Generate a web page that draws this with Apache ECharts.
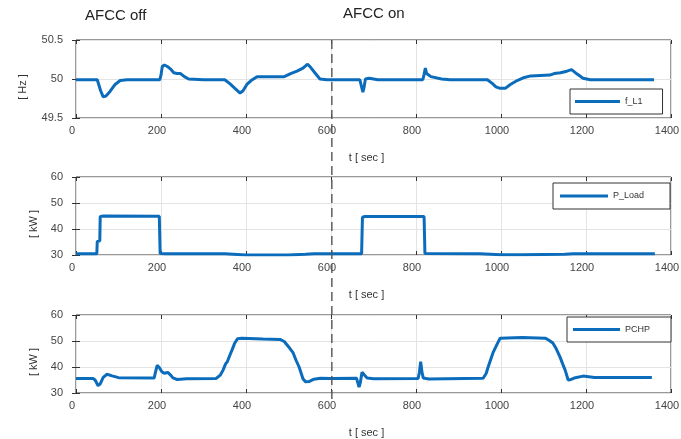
<!DOCTYPE html>
<html><head><meta charset="utf-8">
<script src="https://cdn.jsdelivr.net/npm/echarts@6/dist/echarts.min.js"></script>
<style>html,body{margin:0;padding:0;background:#fff}#c{width:681px;height:439px}</style>
</head><body><div id="c"></div>
<script>
// ---- data ----
const xTickMin = 0, xTickMax = 1400, xTickStep = 200;
const switchTime = 602; // AFCC off -> on

const fTime  = [0,50,53,58,64,70,80,92,104,120,197,200,203,208,215,222,230,238,246,255,265,300,350,362,372,386,393,402,412,426,490,505,520,534,545,552,562,574,590,668,671,675,678,681,690,710,816,819,822,825,835,860,880,968,980,988,998,1010,1022,1038,1055,1070,1115,1125,1140,1155,1166,1180,1193,1210,1360];
const fValue = [49.99,49.99,49.97,49.85,49.77,49.78,49.84,49.93,49.98,49.99,49.99,50.05,50.16,50.18,50.16,50.13,50.08,50.07,50.07,50.03,50.0,49.99,49.99,49.94,49.89,49.82,49.85,49.93,49.98,50.03,50.03,50.07,50.1,50.14,50.19,50.15,50.08,50.0,49.99,49.99,49.92,49.83,49.9,50.0,50.01,49.99,49.99,50.06,50.14,50.07,50.03,50.0,49.99,49.99,49.94,49.9,49.88,49.88,49.93,49.98,50.02,50.04,50.05,50.07,50.08,50.1,50.12,50.06,50.01,49.99,49.99];

const pTime  = [0,49,50,56,57,65,196,198,210,350,380,400,500,540,560,672,674,680,819,821,950,1000,1050,1150,1170,1362];
const pValue = [30.5,30.5,35.2,35.5,44.8,45,44.9,30.6,30.5,30.5,30.2,30,30,30.3,30.5,30.5,44.5,44.8,44.8,30.6,30.5,30.1,30.1,30.3,30.5,30.5];

const cTime  = [0,40,45,52,57,64,73,85,100,184,187,191,196,202,208,216,222,228,238,260,330,340,346,352,356,362,367,373,380,390,440,480,490,500,511,518,525,534,540,548,560,575,600,660,663,666,669,673,678,685,700,805,808,811,814,817,830,958,965,969,975,981,990,998,1050,1104,1112,1122,1130,1139,1145,1151,1158,1165,1175,1193,1220,1355];
const cValue = [35.6,35.6,35,32.8,33.5,36,37.2,36.6,35.9,35.8,38,40.6,39.8,38.2,37.6,37.9,37,35.8,35.2,35.5,35.6,37,38.8,41.2,42,44.5,46.5,49,50.9,51.1,50.8,50.6,49.8,47.8,45.4,42.5,40,35.5,34.3,34.4,35.3,35.7,35.6,35.7,34,32.3,34,38,37,35.8,35.5,35.6,38,42,38,35.8,35.4,35.7,37.5,39.6,42.5,45.4,48.5,51.1,51.3,51.1,50.4,49.2,47,43.8,41.2,38.8,35,35.2,35.9,36.5,36,36];

const seriesNames = ['f_L1','P_Load','PCHP'];
const yNames = ['[ Hz ]','[ kW ]','[ kW ]'];
const yMin = [49.5,30,30], yMax = [50.5,60,60], yStep = [0.5,10,10];
const titles = ['AFCC off','AFCC on'];
const xName = 't [ sec ]';

// ---- chart ----
const FONT = 'Liberation Sans, Arial, sans-serif';
const BLUE = '#0b6cbc';
const pair = (t, v) => t.map((x, i) => [x, v[i]]);
const seriesData = [pair(fTime, fValue), pair(pTime, pValue), pair(cTime, cValue)];
const plain = v => String(v);

const gridTops = [40, 177, 315];
const grids = gridTops.map(t => ({left:76, top:t, width:595, height:78, show:true, borderColor:'#333', borderWidth:1,
  backgroundColor:'#fff', containLabel:false, outerBoundsMode:'none'}));

const xAxes = [], yAxes = [];
for (let i = 0; i < 3; i++) {
  xAxes.push({gridIndex:i, type:'value', position:'bottom', min:xTickMin, max:xTickMax, interval:xTickStep,
    axisLine:{show:false}, axisTick:{show:true, inside:true, length:4, lineStyle:{color:'#333'}},
    splitLine:{show:true, lineStyle:{color:'#e3e3e3', width:1}},
    axisLabel:{color:'#444', fontSize:11, fontFamily:FONT, margin:7, formatter:plain, padding:[0,8,0,0]},
    name:xName, nameLocation:'middle', nameGap:34,
    nameTextStyle:{color:'#333', fontSize:11, fontFamily:FONT, padding:[0,14,0,0]}});
  xAxes.push({gridIndex:i, type:'value', position:'top', min:xTickMin, max:xTickMax, interval:xTickStep,
    axisLine:{show:false}, axisTick:{show:true, inside:true, length:4, lineStyle:{color:'#333'}},
    splitLine:{show:false}, axisLabel:{show:false}});
}
for (let i = 0; i < 3; i++) {
  yAxes.push({gridIndex:i, type:'value', position:'left', min:yMin[i], max:yMax[i], interval:yStep[i],
    axisLine:{show:false}, axisTick:{show:true, inside:true, length:4, lineStyle:{color:'#333'}},
    splitLine:{show:true, lineStyle:{color:'#e3e3e3', width:1}},
    axisLabel:{color:'#444', fontSize:11, fontFamily:FONT, margin:13, formatter:plain},
    name:yNames[i], nameLocation:'middle', nameGap: i===0 ? 48 : 37, nameRotate:90,
    nameTextStyle:{color:'#333', fontSize:11, fontFamily:FONT, padding:[0,16,0,0]}});
  yAxes.push({gridIndex:i, type:'value', position:'right', min:yMin[i], max:yMax[i], interval:yStep[i],
    axisLine:{show:false}, axisTick:{show:true, inside:true, length:4, lineStyle:{color:'#333'}},
    splitLine:{show:false}, axisLabel:{show:false}});
}

const series = seriesData.map((d, i) => ({
  name:seriesNames[i], type:'line', xAxisIndex:i*2, yAxisIndex:i*2, data:d,
  symbol:'none', showSymbol:false, smooth:false, lineStyle:{color:BLUE, width:3}, itemStyle:{color:BLUE},
  z:3, animation:false
}));

const legendCfg = [
  {left:570, top:89, pad:[5.5,20,5.5,5], w:45},
  {left:553, top:183, pad:[6,26,6,7], w:48},
  {left:567, top:317, pad:[5.5,21,5.5,6], w:47}
];
const legends = legendCfg.map((c, i) => ({
  data:[{name:seriesNames[i], icon:'rect'}], left:c.left, top:c.top, padding:c.pad, itemWidth:c.w, itemHeight:3,
  borderColor:'#333', borderWidth:1, backgroundColor:'#fff', borderRadius:0,
  itemStyle:{color:BLUE, borderWidth:0},
  textStyle:{color:'#333', fontSize:9, fontFamily:FONT, lineHeight:14}, selectedMode:false, z:10
}));

const chart = echarts.init(document.getElementById('c'), null, {renderer:'canvas'});
chart.setOption({
  animation:false,
  backgroundColor:'#fff',
  title:[
    {text:titles[0], left:80, top:3, textStyle:{fontSize:15, fontWeight:'normal', color:'#222', fontFamily:FONT}},
    {text:titles[1], left:338, top:1, textStyle:{fontSize:15, fontWeight:'normal', color:'#222', fontFamily:FONT}}
  ],
  grid:grids, xAxis:xAxes, yAxis:yAxes, legend:legends, series:series
});

// dashed separator at the switching time, positioned through the axes
const xPix = chart.convertToPixel({xAxisIndex:0}, switchTime);
const yTop = chart.convertToPixel({yAxisIndex:0}, yMax[0]);
const yBot = chart.convertToPixel({yAxisIndex:4}, yMin[2]) + 6;
chart.setOption({graphic:[{type:'line', shape:{x1:xPix, y1:yTop, x2:xPix, y2:yBot}, z:20,
  style:{stroke:'#555', lineWidth:1.4, lineDash:[9,5]}}]});
</script></body></html>
